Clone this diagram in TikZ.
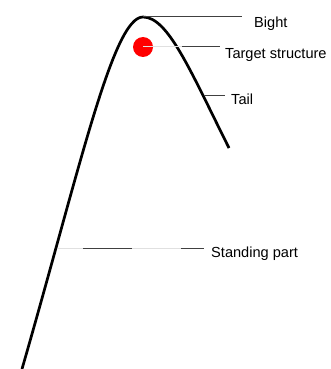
\documentclass[tikz,border=0pt]{standalone}
\usepackage{fontspec}
\setmainfont{Liberation Sans}
\begin{document}
\begin{tikzpicture}[x=1pt,y=-1pt,
  rope/.style={line width=2.7pt,black},
  leader/.style={line width=1pt,black!75},
  faint/.style={line width=1pt,black!12},
  lbl/.style={anchor=base west,inner sep=0pt,font=\fontsize{14.6}{17}\selectfont}]
\useasboundingbox[fill=white] (0,0) rectangle (331,369);
% rope
\coordinate (bottom) at (22,369);
\coordinate (apex) at (143,17);
\coordinate (tailend) at (229,148);
\draw[rope] (bottom) .. controls (80,168) and (113,17) .. (apex)
  .. controls (168,17) and (190,70) .. (tailend);
% target structure
\fill[red] (143,47) circle (10);
\node[inner sep=0pt,minimum size=0pt] (dot) at (143,47) {};
% labels
\node[lbl] (bight) at (254,28) {Bight};
\node[lbl] (target) at (225,59) {Target structure};
\node[lbl] (tail) at (231,104) {Tail};
\node[lbl] (standing) at (211,257) {Standing part};
% leader lines
\coordinate (b1) at (242,17);
\draw[leader] (apex) -- (b1);
\coordinate (t0) at (182,47);
\coordinate (t1) at (220,47);
\draw[faint] (dot) -- (t0);
\draw[leader] (t0) -- (t1);
\coordinate (l0) at (204,95);
\coordinate (l1) at (225,95);
\draw[leader] (l0) -- (l1);
\coordinate (s0) at (58,248);
\coordinate (s1) at (83,248);
\coordinate (s2) at (132,248);
\coordinate (s3) at (181,248);
\coordinate (s4) at (204,248);
\draw[faint] (s0) -- (s4);
\draw[leader] (s1) -- (s2);
\draw[leader] (s3) -- (s4);
\end{tikzpicture}
\end{document}
